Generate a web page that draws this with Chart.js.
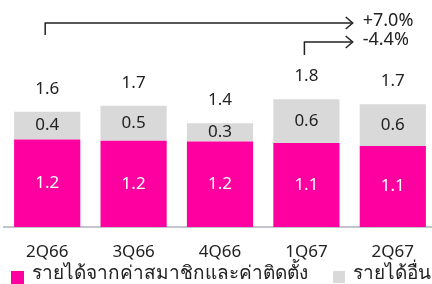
<!DOCTYPE html>
<html lang="th">
<head>
<meta charset="UTF-8">
<title>Revenue by quarter</title>
<script src="https://cdn.jsdelivr.net/npm/chart.js"></script>
<style>
  html, body { margin: 0; padding: 0; background: #fff; overflow: hidden; }
  #wrap { width: 432px; height: 284px; overflow: hidden; }
</style>
</head>
<body>
<div id="wrap"><canvas id="chart" width="436" height="284"></canvas></div>
<script>
const quarters = ['2Q66', '3Q66', '4Q66', '1Q67', '2Q67'];
const subscription = [1.20, 1.18, 1.17, 1.15, 1.11];
const other = [0.38, 0.48, 0.25, 0.60, 0.57];
const seriesNames = ['รายได้จากค่าสมาชิกและค่าติดตั้ง', 'รายได้อื่น'];
const growthNotes = [
  { from: 0, text: '+7.0%' },
  { from: 3, text: '-4.4%' }
];

const FONT = "'Noto Sans', sans-serif";
const PINK = '#ff00a0';
const GREY = '#d9d9d9';

const labelPlugin = {
  id: 'labels',
  afterDatasetsDraw(chart) {
    const ctx = chart.ctx;
    ctx.save();
    ctx.font = '17px ' + FONT;
    ctx.textAlign = 'center';
    ctx.textBaseline = 'middle';
    const m0 = chart.getDatasetMeta(0).data;
    const m1 = chart.getDatasetMeta(1).data;
    quarters.forEach((q, i) => {
      const a = m0[i], b = m1[i];
      ctx.fillStyle = '#fff';
      ctx.fillText(subscription[i].toFixed(1), a.x, (a.y + a.base) / 2);
      ctx.fillStyle = '#222';
      ctx.fillText(other[i].toFixed(1), b.x, (b.y + b.base) / 2);
      ctx.fillText((subscription[i] + other[i]).toFixed(1), b.x, b.y - 23);
    });

    // growth arrows
    const last = m1[quarters.length - 1];
    const endX = last.x - last.width / 2 - 8;
    ctx.strokeStyle = '#222';
    ctx.lineWidth = 1.5;
    ctx.textAlign = 'left';
    ctx.font = '18px ' + FONT;
    const rows = [{ y: 23, y0: 35 }, { y: 42, y0: 55 }];
    growthNotes.forEach((g, k) => {
      const sx = m1[g.from].x - 2;
      const r = rows[k];
      ctx.beginPath();
      ctx.moveTo(sx, r.y0);
      ctx.lineTo(sx, r.y);
      ctx.lineTo(endX, r.y);
      ctx.stroke();
      ctx.beginPath();
      ctx.moveTo(endX - 6, r.y - 6);
      ctx.lineTo(endX + 1, r.y);
      ctx.lineTo(endX - 6, r.y + 6);
      ctx.stroke();
      ctx.fillText(g.text, endX + 11, r.y - 2);
    });

    // legend
    ctx.font = '19px ' + FONT;
    ctx.fillStyle = PINK;
    ctx.fillRect(11, 271, 13, 13);
    ctx.fillStyle = '#222';
    ctx.fillText(seriesNames[0], 32, 274);
    ctx.fillStyle = GREY;
    ctx.fillRect(333, 271, 12, 12);
    ctx.fillStyle = '#222';
    ctx.fillText(seriesNames[1], 353, 274);
    ctx.restore();
  }
};

new Chart(document.getElementById('chart'), {
  type: 'bar',
  data: {
    labels: quarters,
    datasets: [
      { label: seriesNames[0], data: subscription, backgroundColor: PINK },
      { label: seriesNames[1], data: other, backgroundColor: GREY }
    ]
  },
  options: {
    responsive: false,
    animation: false,
    events: [],
    barPercentage: 0.766,
    categoryPercentage: 1,
    layout: { padding: { top: 8, left: 4, right: 0, bottom: 23 } },
    plugins: { legend: { display: false }, tooltip: { enabled: false } },
    scales: {
      x: {
        stacked: true,
        grid: { display: false, drawTicks: false },
        border: { display: true, color: '#c4c4cc', width: 2 },
        ticks: { color: '#222', padding: 15, maxRotation: 0, font: { family: FONT, size: 17 } },
        afterFit(scale) { scale.height = 34; }
      },
      y: {
        stacked: true,
        display: false,
        min: 0,
        max: 3.0
      }
    }
  },
  plugins: [labelPlugin]
});
</script>
</body>
</html>
